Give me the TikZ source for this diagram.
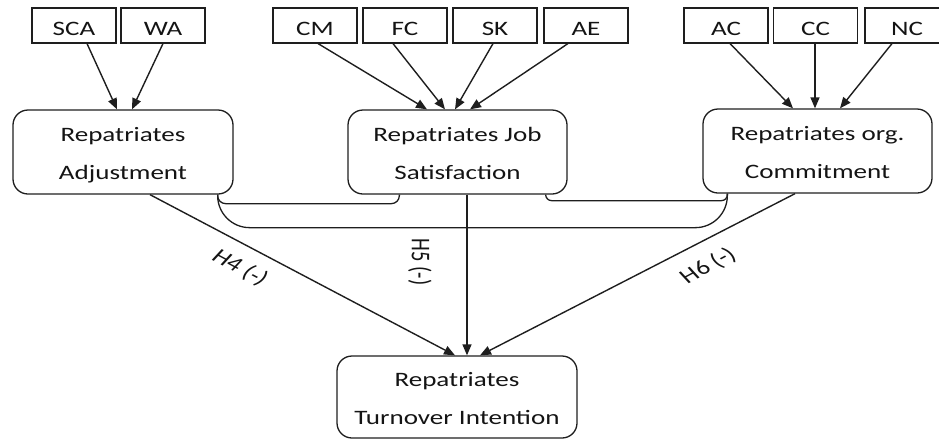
\documentclass[tikz,border=0pt]{standalone}
\usepackage{fontspec}
\setmainfont{Carlito}[FakeStretch=1.32]
\newfontfamily\labelfont{Carlito}
\usetikzlibrary{arrows.meta,calc}
\definecolor{linec}{RGB}{30,30,30}
\definecolor{textc}{RGB}{20,20,20}
\tikzset{
  smallbox/.style={draw=linec, line width=1.1pt, minimum width=84pt, minimum height=35pt,
    inner sep=0pt, text height=20pt, text depth=1pt,
    font=\fontsize{20.5}{24}\selectfont, text=textc},
  bigbox/.style={draw=linec, line width=1.3pt, rounded corners=15pt, inner sep=0pt,
    align=center, minimum height=84pt, font=\fontsize{20.5}{38}\selectfont, text=textc},
  arr/.style={draw=linec, line width=1.4pt, -{Triangle[length=11pt,width=9pt]}},
  link/.style={draw=linec, line width=1.3pt},
  hlab/.style={font=\labelfont\fontsize{20.5}{24}\selectfont, text=textc, transform shape, inner sep=0pt}
}
\newcommand{\twolines}[2]{\rule{0pt}{22pt}#1\\#2\rule[-6pt]{0pt}{6pt}}
\begin{document}
\begin{tikzpicture}[x=1pt, y=-1pt]
\useasboundingbox (0,0) rectangle (939,440);
% top boxes
\node[smallbox] (sca) at (74,25.5) {SCA};
\node[smallbox] (wa) at (163,25.5) {WA};
\node[smallbox] (cm) at (315,25.5) {CM};
\node[smallbox] (fc) at (405,25.5) {FC};
\node[smallbox] (sk) at (495,25.5) {SK};
\node[smallbox] (ae) at (586,25.5) {AE};
\node[smallbox] (ac) at (726,25.5) {AC};
\node[smallbox] (cc) at (815.5,25.5) {CC};
\node[smallbox] (nc) at (907,25.5) {NC};
% middle boxes
\node[bigbox, minimum width=220pt] (adj) at (123,152) {\twolines{Repatriates}{Adjustment}};
\node[bigbox, minimum width=219pt] (job) at (457.5,152) {\twolines{Repatriates Job}{Satisfaction}};
\node[bigbox, minimum width=229pt] (com) at (817.5,151) {\twolines{Repatriates org.}{Commitment}};
% bottom box
\node[bigbox, minimum width=240pt, minimum height=82pt] (tov) at (457,397) {\twolines{Repatriates}{Turnover Intention}};
% arrows into middle boxes
\draw[arr] ($(sca.south)+(13,0)$) -- ($(adj.north)+(-6,0)$);
\draw[arr] ($(wa.south)+(0,0)$) -- ($(adj.north)+(9,0)$);
\draw[arr] ($(cm.south)+(3,0)$) -- ($(job.north)+(-30.5,0)$);
\draw[arr] ($(fc.south)+(-12,0)$) -- ($(job.north)+(-12.5,0)$);
\draw[arr] ($(sk.south)+(-2,0)$) -- ($(job.north)+(-2.5,0)$);
\draw[arr] ($(ae.south)+(-18,0)$) -- ($(job.north)+(12.5,0)$);
\draw[arr] ($(ac.south)+(4,0)$) -- ($(com.north)+(-24.5,0)$);
\draw[arr] ($(cc.south)+(-0.5,0)$) -- ($(com.north)+(-2.5,0)$);
\draw[arr] ($(nc.south)+(-15,0)$) -- ($(com.north)+(22.5,0)$);
% correlation links
\draw[link, rounded corners=8pt] ($(adj.south east)+(-16,0)$) -- ++(0,9) -| ($(job.south west)+(52,0)$);
\draw[link, rounded corners=6pt] ($(job.south east)+(-22,0)$) -- ++(0,6) -| ($(com.south west)+(25,0)$);
\draw[link, rounded corners=32pt] ($(adj.south east)+(-16,0)$) -- ++(0,33) -| ($(com.south west)+(25,0)$);
% arrows into bottom box
\draw[arr] ($(adj.south)+(27,0)$) -- ($(tov.north)+(-2,0)$);
\draw[arr] ($(job.south)+(9.5,0)$) -- ($(tov.north)+(10,0)$);
\draw[arr] ($(com.south)+(-22.5,0)$) -- ($(tov.north)+(23,0)$);
% labels
\begin{scope}[shift={(240,268)}, xscale=1.32, rotate=-35]
  \node[hlab] (h4) at (0,0) {H4 (-)};
\end{scope}
\begin{scope}[shift={(420,262)}, xscale=1.32, rotate=-90]
  \node[hlab] (h5) at (0,0) {H5 (-)};
\end{scope}
\begin{scope}[shift={(708,266)}, xscale=1.32, rotate=35]
  \node[hlab] (h6) at (0,0) {H6 (-)};
\end{scope}
\end{tikzpicture}
\end{document}
